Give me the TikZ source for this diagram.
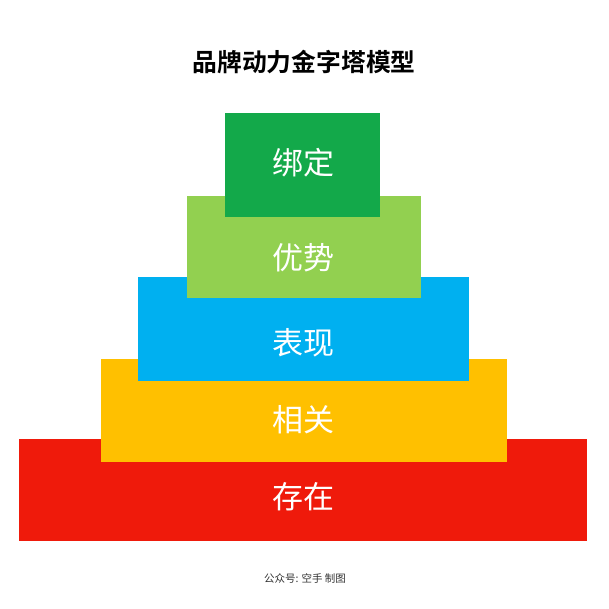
\documentclass[tikz,border=0pt]{standalone}
\usepackage{fontspec}
\setmainfont{Noto Sans CJK SC}
\newfontfamily\titlefont{Noto Sans CJK SC Bold}
\definecolor{cdarkgreen}{HTML}{13A94A}
\definecolor{clightgreen}{HTML}{92D050}
\definecolor{cblue}{HTML}{00B0F0}
\definecolor{cyellow}{HTML}{FFC000}
\definecolor{cred}{HTML}{EF1A0B}
\definecolor{cfoot}{HTML}{333333}
\begin{document}
\begin{tikzpicture}[x=1pt,y=-1pt,
  tier/.style={rectangle,inner sep=0pt,outer sep=0pt,draw=none},
  tierlabel/.style={inner sep=0pt,text=white,font=\fontsize{31}{33}\selectfont},
  ]
\useasboundingbox[fill=white] (0,0) rectangle (609,608);
\node[tier,fill=cred,minimum width=568pt,minimum height=102pt] (b5) at (303,490) {};
\node[tier,fill=cyellow,minimum width=406pt,minimum height=103pt] (b4) at (303.5,410.5) {};
\node[tier,fill=cblue,minimum width=331pt,minimum height=104pt] (b3) at (303.5,329) {};
\node[tier,fill=clightgreen,minimum width=234pt,minimum height=102pt] (b2) at (304,247) {};
\node[tier,fill=cdarkgreen,minimum width=155pt,minimum height=104pt] (b1) at (302.5,165) {};
\node[tierlabel] (l1) at (303,163) {绑定};
\node[tierlabel] (l2) at (303,258) {优势};
\node[tierlabel] (l3) at (303,343) {表现};
\node[tierlabel] (l4) at (303,420) {相关};
\node[tierlabel] (l5) at (303,497) {存在};
\node[inner sep=0pt,font=\titlefont\fontsize{24.8}{26}\selectfont] (title) at (304,62) {品牌动力金字塔模型};
\node[inner sep=0pt,text=cfoot,font=\fontsize{10.5}{12}\selectfont] (foot) at (305,578) {公众号: 空手 制图};
\end{tikzpicture}
\end{document}
